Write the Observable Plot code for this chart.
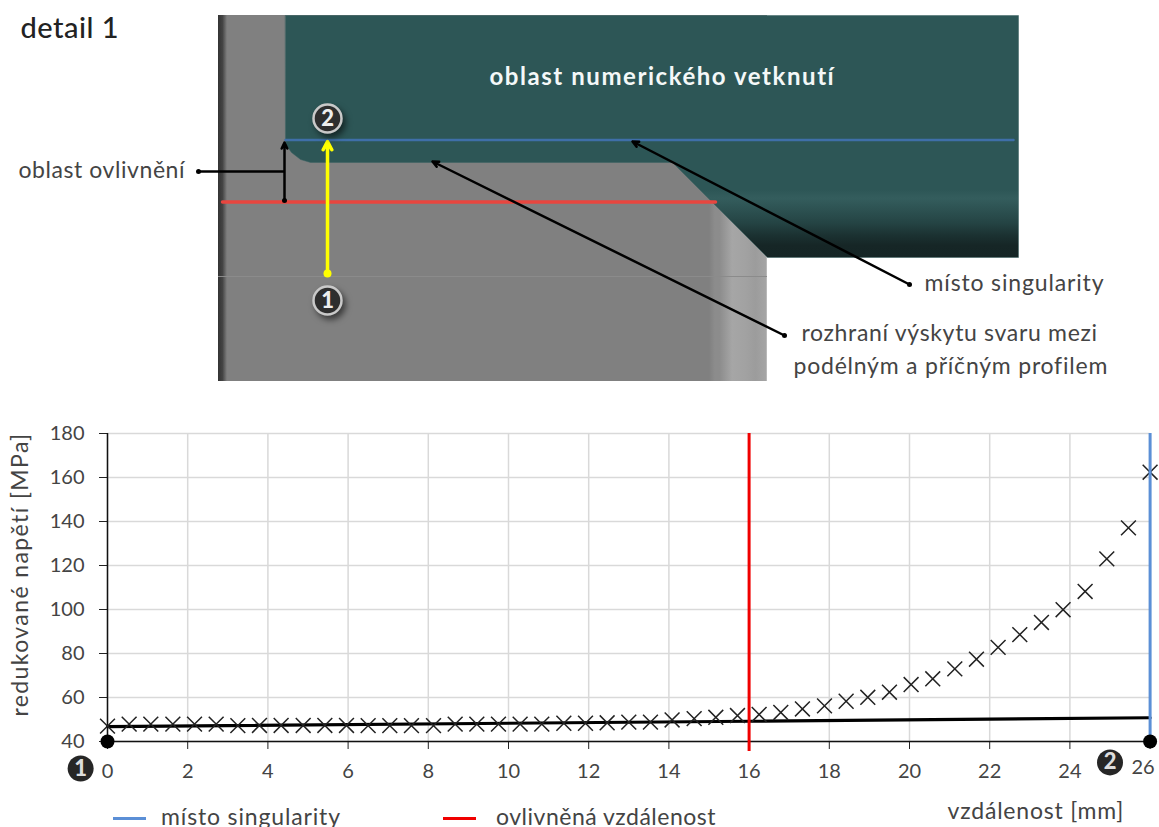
<!DOCTYPE html>
<html lang="cs">
<head>
<meta charset="utf-8">
<script src="https://cdn.jsdelivr.net/npm/d3@7"></script>
<script src="https://cdn.jsdelivr.net/npm/@observablehq/plot@0.6"></script>
<style>
html,body{margin:0;padding:0;background:#fff;overflow:hidden}
#page{position:relative;width:1159px;height:827px;overflow:hidden;font-family:Lato,sans-serif}
#page svg{display:block;position:absolute;left:0}
.leg{position:absolute;top:802px;font:23px Lato,sans-serif;color:#444;white-space:nowrap}
.sw{position:absolute;top:817px;height:3px;width:33px}
</style>
</head>
<body>
<div id="page"></div>
<script>
// ---- chart data ----
const distance = [0,0.54,1.08,1.63,2.17,2.71,3.25,3.79,4.33,4.88,5.42,5.96,6.5,7.04,7.58,8.13,8.67,9.21,9.75,10.29,10.83,11.38,11.92,12.46,13,13.54,14.08,14.63,15.17,15.71,16.25,16.79,17.33,17.88,18.42,18.96,19.5,20.04,20.58,21.13,21.67,22.21,22.75,23.29,23.83,24.38,24.92,25.46,26];
const stress = [47,47.9,47.9,47.9,47.9,47.9,47.2,47.3,47.3,47.3,47.3,47.3,47.2,47.2,47.2,47.2,47.9,47.9,47.9,47.9,47.9,48.3,48.3,48.5,48.8,48.8,49.8,50.4,51,51.8,52.3,53.2,54.8,56.2,58.3,60.1,62.4,65.9,68.5,73,77.4,82.8,88.6,94.1,99.9,108.2,123,137.1,162.4];
const trendX = [0,16,26];
const trendY = [46.8,49.2,50.8];
const xTicks = [0,2,4,6,8,10,12,14,16,18,20,22,24,26];
const yTicks = [40,60,80,100,120,140,160,180];
const influenceX = 16;
const singularityX = 26;
const endX = [0,26];
const endY = [40,40];
const chartBadgeX = [-0.67,25.0];
const chartBadgeY = [27.7,30.5];
const badgeText = ["1","2"];
const xLabel = "vzdálenost [mm]";
const yLabel = "redukované napětí [MPa]";
const legendNames = ["místo singularity","ovlivněná vzdálenost"];

// ---- diagram data (in picture units) ----
const tealX = [285,1018,1018,767,672,310,300,291,286,285];
const tealY = [15,15,257,257,162,162,159,152,145,139];
const redLineX = [222,715], redLineY = [201.5,201.5];
const blueLineX = [285,1013], blueLineY = [139.5,139.5];
const seam = {x1:[218],x2:[767],y:[276]};
const callX1 = [909,784,284,327], callY1 = [284,335,200,273], callX2 = [632,432,284,327], callY2 = [141,161,142,141];
const leaderX1 = [198], leaderY1 = [171], leaderX2 = [284], leaderY2 = [171];
const diagBadgeX = [327,327], diagBadgeY = [300,118];
const diagramText = ["detail 1","oblast numerického vetknutí","oblast ovlivnění","místo singularity","rozhraní výskytu svaru mezi","podélným a příčným profilem"];
const diagramTextX = [20,489,18,924,801,793];
const diagramTextY = [28,77,170,283,333,366];
const diagramTextSpacing = [0.5,1.55,0.56,0.85,0.67,0.78];

const FONT = "Lato, sans-serif";

function gradients() {
  const defs = d3.create("svg:defs");
  const g = (id, dir, stops) => {
    const lg = defs.append("linearGradient").attr("id", id)
      .attr("x1",0).attr("y1",0).attr("x2",dir==="h"?1:0).attr("y2",dir==="h"?0:1);
    stops.forEach(([o,c]) => lg.append("stop").attr("offset",o).attr("stop-color",c));
  };
  g("teal","v",[[0,"#2d5656"],[.72,"#2d5656"],[.755,"#345d5d"],[.80,"#2d5252"],[.86,"#244343"],[.91,"#1b3131"],[.95,"#162626"],[1,"#152525"]]);
  g("edge","h",[[0,"#333"],[.5,"#444"],[1,"#808080"]]);
  g("chamfer","h",[[0,"#808080"],[.1,"#8c8c8c"],[.18,"#8c8c8c"],[.4,"#a6a6a6"],[.62,"#a2a2a2"],[.8,"#9c9c9c"],[.98,"#a4a4a4"],[1,"#c8c8c8"]]);
  return defs.node();
}

const diagram = Plot.plot({
  width:1159, height:400, margin:0,
  x:{domain:[0,1159],range:[0,1159],axis:null},
  y:{domain:[0,400],range:[0,400],axis:null},
  style:{background:"transparent",fontFamily:FONT},
  marks:[
    gradients,
    Plot.rect([0],{x1:()=>218,x2:()=>767,y1:()=>15,y2:()=>381,fill:"#808080"}),
    Plot.rect([0],{x1:()=>218,x2:()=>227,y1:()=>15,y2:()=>381,fill:"url(#edge)"}),
    Plot.rect([0],{x1:()=>709,x2:()=>767,y1:()=>150,y2:()=>381,fill:"url(#chamfer)"}),
    Plot.ruleY(seam.y,{x1:seam.x1[0],x2:seam.x2[0],stroke:"#8b8b8b",strokeWidth:1}),
    Plot.line(tealX.map((x,i)=>[x,tealY[i]]),{x:d=>d[0],y:d=>d[1],fill:"url(#teal)",stroke:"#3b6363",strokeWidth:.5,curve:"linear-closed"}),
    Plot.line(redLineX,{x:d=>d,y:(d,i)=>redLineY[i],stroke:"#e8463f",strokeWidth:3.5}),
    Plot.line(blueLineX,{x:d=>d,y:(d,i)=>blueLineY[i],stroke:"#3f6fa8",strokeWidth:2.5}),
    Plot.link(leaderX1,{x1:d=>d,y1:(d,i)=>leaderY1[i],x2:(d,i)=>leaderX2[i],y2:(d,i)=>leaderY2[i],stroke:"#000",strokeWidth:2.5}),
    Plot.dot(leaderX1,{x:d=>d,y:(d,i)=>leaderY1[i],r:2.5,fill:"#000"}),
    Plot.arrow([0,1,2],{x1:i=>callX1[i],y1:i=>callY1[i],x2:i=>callX2[i],y2:i=>callY2[i],stroke:"#000",strokeWidth:2.5,headLength:4,headAngle:50}),
    Plot.dot([0,1,2],{x:i=>callX1[i],y:i=>callY1[i],r:2.5,fill:"#000"}),
    Plot.arrow([3],{x1:i=>callX1[i],y1:i=>callY1[i],x2:i=>callX2[i],y2:i=>callY2[i],stroke:"#ffff00",strokeWidth:3.5,headLength:4,headAngle:55}),
    Plot.dot([3],{x:i=>callX1[i],y:i=>callY1[i],r:4,fill:"#ffff00"}),
    Plot.dot(diagBadgeX,{x:d=>d,y:(d,i)=>diagBadgeY[i],r:14,fill:"#2e2e2e",stroke:"#c9c9c9",strokeWidth:2.5,imageFilter:"drop-shadow(3px 4px 3px rgba(0,0,0,.55))"}),
    Plot.text(diagBadgeX,{x:d=>d,y:(d,i)=>diagBadgeY[i],text:(d,i)=>badgeText[i],fill:"#eee",fontSize:22,fontWeight:900,fontFamily:FONT}),
    Plot.text([diagramText[0]],{x:()=>diagramTextX[0],y:()=>diagramTextY[0],text:d=>d,textAnchor:"start",fill:"#222",fontSize:29,fontWeight:500,fontFamily:FONT}),
    Plot.text([diagramText[1]],{x:()=>diagramTextX[1],y:()=>diagramTextY[1],text:d=>d,textAnchor:"start",fill:"#f4f8f8",fontSize:24,fontWeight:700,fontFamily:FONT}),
    Plot.text(diagramText.slice(2),{x:(d,i)=>diagramTextX[i+2],y:(d,i)=>diagramTextY[i+2],text:d=>d,textAnchor:"start",fill:"#444",fontSize:23,fontFamily:FONT})
  ]
});
diagram.style.top="0";

const chart = Plot.plot({
  width:1159, height:427,
  marginLeft:107, marginRight:9.4, marginTop:33, marginBottom:86,
  x:{domain:[0,26]},
  y:{domain:[40,180]},
  style:{background:"transparent",fontFamily:FONT,overflow:"visible"},
  marks:[
    Plot.gridX(xTicks,{stroke:"#d9d9d9",strokeOpacity:1,strokeWidth:1.5}),
    Plot.gridY(yTicks,{stroke:"#d9d9d9",strokeOpacity:1,strokeWidth:1.5}),
    Plot.axisX({ticks:xTicks,label:null,tickSize:8,tickPadding:14,fontSize:20,stroke:"#222",fill:"#444",tickFormat:d=>d===26?"":d}),
    Plot.axisY({ticks:yTicks,label:null,tickSize:8,tickPadding:15,fontSize:20,stroke:"#222",fill:"#444"}),
    Plot.text([26],{x:d=>d,frameAnchor:"bottom",dy:32,dx:-7,text:d=>String(d),fontSize:20,fill:"#444",fontFamily:FONT}),
    Plot.ruleX([0],{stroke:"#111",strokeWidth:1.5}),
    Plot.ruleY([40],{stroke:"#111",strokeWidth:1.5}),
    Plot.line(trendX,{x:d=>d,y:(d,i)=>trendY[i],stroke:"#000",strokeWidth:3.2}),
    Plot.dot(stress,{x:(d,i)=>distance[i],y:d=>d,symbol:"times",r:6.8,stroke:"#222",strokeWidth:1.5}),
    Plot.ruleX([influenceX],{y1:35.5,y2:180,stroke:"#f00000",strokeWidth:3}),
    Plot.ruleX([singularityX],{stroke:"#5b8fd6",strokeWidth:3}),
    Plot.dot(endX,{x:d=>d,y:(d,i)=>endY[i],r:7,fill:"#000"}),
    Plot.dot(chartBadgeX,{x:d=>d,y:(d,i)=>chartBadgeY[i],r:13,fill:"#262626"}),
    Plot.text(chartBadgeX,{x:d=>d,y:(d,i)=>chartBadgeY[i],text:(d,i)=>badgeText[i],fill:"#ddd",fontSize:22,fontWeight:900,fontFamily:FONT}),
    Plot.text([yLabel],{frameAnchor:"left",textAnchor:"middle",rotate:-90,dx:-87,dy:-13,text:d=>d,fontSize:23,fill:"#444",fontFamily:FONT}),
    Plot.text([xLabel],{frameAnchor:"bottom-right",textAnchor:"end",dx:-26,dy:77,text:d=>d,fontSize:23,fill:"#444",fontFamily:FONT})
  ]
});
chart.style.top="400px";

const page = document.getElementById("page");
page.append(diagram, chart);

// Plot.text has no letter-spacing option: set it on the finished text elements
const spacing = new Map(diagramText.map((t,i)=>[t,diagramTextSpacing[i]]));
spacing.set(yLabel,1.4); spacing.set(xLabel,0.8);
page.querySelectorAll("svg text").forEach(n=>{
  const s = spacing.get(n.textContent);
  if (s) n.style.letterSpacing = s+"px";
});

const colors=["#5b8fd6","#f00000"], swX=[113,443], txtX=[161,496], legSpacing=[0.85,0.5];
legendNames.forEach((n,i)=>{
  const s=document.createElement("div"); s.className="sw"; s.style.left=swX[i]+"px"; s.style.background=colors[i]; page.append(s);
  const t=document.createElement("div"); t.className="leg"; t.style.left=txtX[i]+"px"; t.style.letterSpacing=legSpacing[i]+"px"; t.textContent=n; page.append(t);
});
</script>
</body>
</html>
